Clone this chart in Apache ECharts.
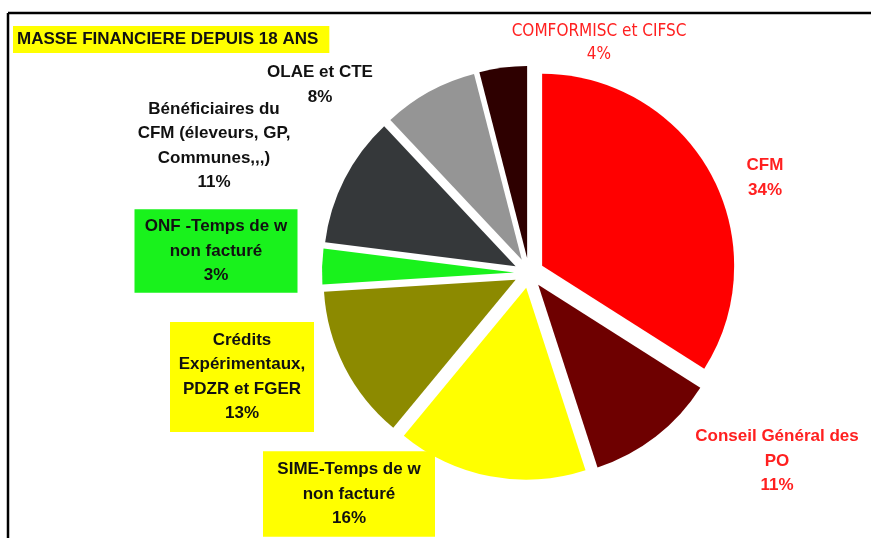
<!DOCTYPE html>
<html>
<head>
<meta charset="utf-8">
<title>Masse financière depuis 18 ans</title>
<script src="https://cdn.jsdelivr.net/npm/echarts@6/dist/echarts.min.js"></script>
<style>
  html, body { margin: 0; padding: 0; background: #fff; }
  #chart { width: 871px; height: 538px; }
</style>
</head>
<body>
<div id="chart"></div>
<script>
// données (en %)
const categories = [
    'CFM',
    'Conseil Général des\nPO',
    'SIME-Temps de w\nnon facturé',
    'Crédits\nExpérimentaux,\nPDZR et FGER',
    'ONF -Temps de w\nnon facturé',
    'Bénéficiaires du\nCFM (éleveurs, GP,\nCommunes,,,)',
    'OLAE et CTE',
    'COMFORMISC et CIFSC'
];
const shares = [34, 11, 16, 13, 3, 11, 8, 4];

// couleurs des parts
const sliceColors = ['#ff0000', '#6e0000', '#ffff00', '#8c8a00', '#19f21c', '#35383a', '#959595', '#2e0000'];

// position du centre de chaque étiquette
const labelCenters = [
    [765, 178], [777, 461], [349, 494], [242, 377], [216, 251], [214, 146], [320, 85], [599, 43]
];

const red = '#ff2020';
const labelStyles = [
    { color: red },
    { color: red },
    { backgroundColor: '#ffff00', width: 156, padding: [6, 8, 6, 8] },
    { backgroundColor: '#ffff00', width: 136, padding: [6, 4, 6, 4] },
    { backgroundColor: '#19f21c', width: 155, padding: [5, 4, 5, 4] },
    {},
    {},
    { color: red, fontWeight: 'normal', fontFamily: "'Liberation Sans Narrow', 'DejaVu Sans Condensed', 'Liberation Sans', Arial", fontSize: 17, lineHeight: 23 }
];

let chart = echarts.init(document.getElementById('chart'));

// parts éclatées (sans étiquettes)
let slices = categories.map(function (name, i) {
    return { name: name, value: shares[i], selected: true, itemStyle: { color: sliceColors[i] } };
});

// même camembert, transparent, qui porte les étiquettes
let labels = categories.map(function (name, i) {
    return { name: name, value: shares[i], label: labelStyles[i] };
});

let option = {
    animation: false,
    title: {
        text: 'MASSE FINANCIERE DEPUIS 18 ANS',
        left: 13,
        top: 26,
        padding: [5, 11, 5, 4],
        backgroundColor: '#ffff00',
        textStyle: {
            fontFamily: "'Liberation Sans', Arial",
            fontSize: 17,
            fontWeight: 'bold',
            color: '#111'
        }
    },
    graphic: [
        { type: 'line', shape: { x1: 8, y1: 13, x2: 871, y2: 13 }, style: { stroke: '#000', lineWidth: 2.5 } },
        { type: 'line', shape: { x1: 8, y1: 13, x2: 8, y2: 538 }, style: { stroke: '#000', lineWidth: 2.5 } }
    ],
    series: [
        {
            type: 'pie',
            center: [529, 273],
            radius: 192,
            startAngle: 90,
            clockwise: true,
            selectedMode: 'multiple',
            selectedOffset: 15,
            emphasis: { disabled: true },
            label: { show: false },
            labelLine: { show: false },
            data: slices
        },
        {
            type: 'pie',
            center: [529, 273],
            radius: 192,
            startAngle: 90,
            clockwise: true,
            silent: true,
            emphasis: { disabled: true },
            itemStyle: { color: 'rgba(0,0,0,0)' },
            labelLine: { show: false },
            label: {
                show: true,
                position: 'outside',
                formatter: '{b}\n{c}%',
                fontFamily: "'Liberation Sans', Arial",
                fontSize: 17,
                fontWeight: 'bold',
                lineHeight: 24.5,
                color: '#111',
                align: 'center'
            },
            labelLayout: function (params) {
                let c = labelCenters[params.dataIndex];
                return { x: c[0], y: c[1], align: 'center', verticalAlign: 'middle' };
            },
            data: labels
        }
    ]
};

chart.setOption(option);
</script>
</body>
</html>
